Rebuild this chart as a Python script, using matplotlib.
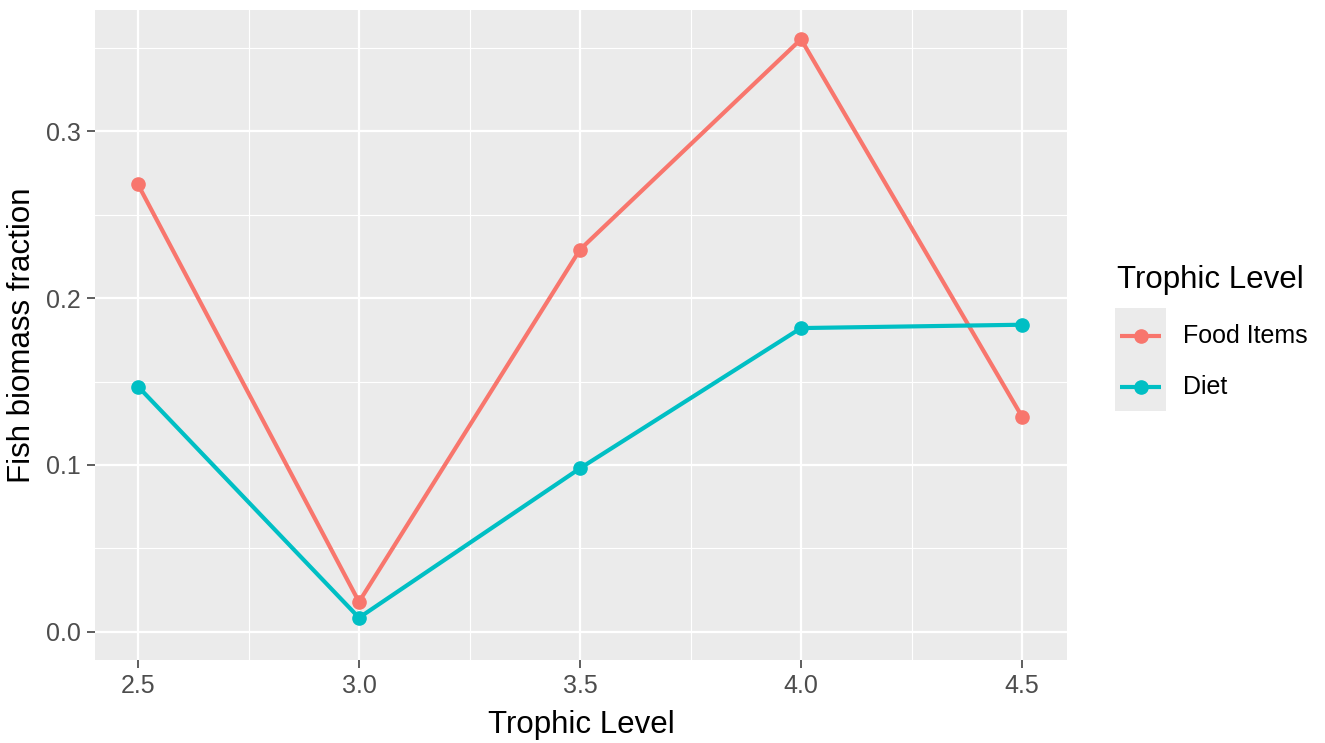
import matplotlib
matplotlib.use("Agg")
import matplotlib.pyplot as plt
from matplotlib.lines import Line2D
from matplotlib.patches import Rectangle
from matplotlib.ticker import MultipleLocator

plt.rcParams['font.family'] = ['Liberation Sans', 'DejaVu Sans']

trophic_levels = [2.5, 3.0, 3.5, 4.0, 4.5]
food_items = [0.268, 0.018, 0.229, 0.355, 0.129]
diet = [0.147, 0.0085, 0.098, 0.182, 0.184]
series_names = ["Food Items", "Diet"]
series_colors = ["#F8766D", "#00BFC4"]
x_ticks = [2.5, 3.0, 3.5, 4.0, 4.5]
y_ticks = [0.0, 0.1, 0.2, 0.3]

W, H = 1325, 743
fig = plt.figure(figsize=(W / 100, H / 100), dpi=100)
fig.patch.set_facecolor("white")

left, right, top, bottom = 95, 1067, 10, 660
ax = fig.add_axes([left / W, 1 - bottom / H, (right - left) / W, (bottom - top) / H])
ax.set_facecolor("#EBEBEB")
for s in ax.spines.values():
    s.set_visible(False)

for vals, name, col in zip([food_items, diet], series_names, series_colors):
    ax.plot(trophic_levels, vals, color=col, lw=3.0, marker="o", ms=9.5,
            label=name, solid_capstyle="butt", zorder=3)

ax.set_xlim(2.4027, 4.6018)
ax.set_ylim(-0.0168, 0.3725)
ax.set_xticks(x_ticks)
ax.set_xticklabels([f"{v:.1f}" for v in x_ticks])
ax.set_yticks(y_ticks)
ax.set_yticklabels([f"{v:.1f}" for v in y_ticks])
ax.xaxis.set_minor_locator(MultipleLocator(0.25))
ax.yaxis.set_minor_locator(MultipleLocator(0.05))
ax.grid(which="major", color="white", lw=1.6, zorder=0)
ax.grid(which="minor", color="white", lw=0.8, zorder=0)
ax.set_axisbelow(True)
ax.tick_params(which="major", length=6, width=1.1, color="#333333",
               labelsize=18, labelcolor="#4D4D4D", pad=4)
ax.tick_params(which="minor", length=0)

ax.set_xlabel("Trophic Level", fontsize=22.5, color="black", labelpad=9)
ax.set_ylabel("Fish biomass fraction", fontsize=22.5, color="black", labelpad=7)

# legend (ggplot style)
fig.text(1117 / W, 1 - 280 / H, "Trophic Level", fontsize=22.5, va="center", ha="left")
fig.add_artist(Rectangle((1115 / W, 1 - 411 / H), 51 / W, 103 / H,
                         transform=fig.transFigure, facecolor="#EBEBEB",
                         edgecolor="none"))
for i, (name, col) in enumerate(zip(series_names, series_colors)):
    yc = 1 - (336 + 51 * i) / H
    fig.add_artist(Line2D([1120 / W, 1161 / W], [yc, yc], transform=fig.transFigure,
                          color=col, lw=3.0, solid_capstyle="butt"))
    fig.add_artist(Line2D([1140.5 / W], [yc], transform=fig.transFigure,
                          color=col, marker="o", ms=9.5, lw=0))
    fig.text(1183 / W, yc, name, fontsize=18, va="center", ha="left")

fig.savefig("out.png", dpi=100)
